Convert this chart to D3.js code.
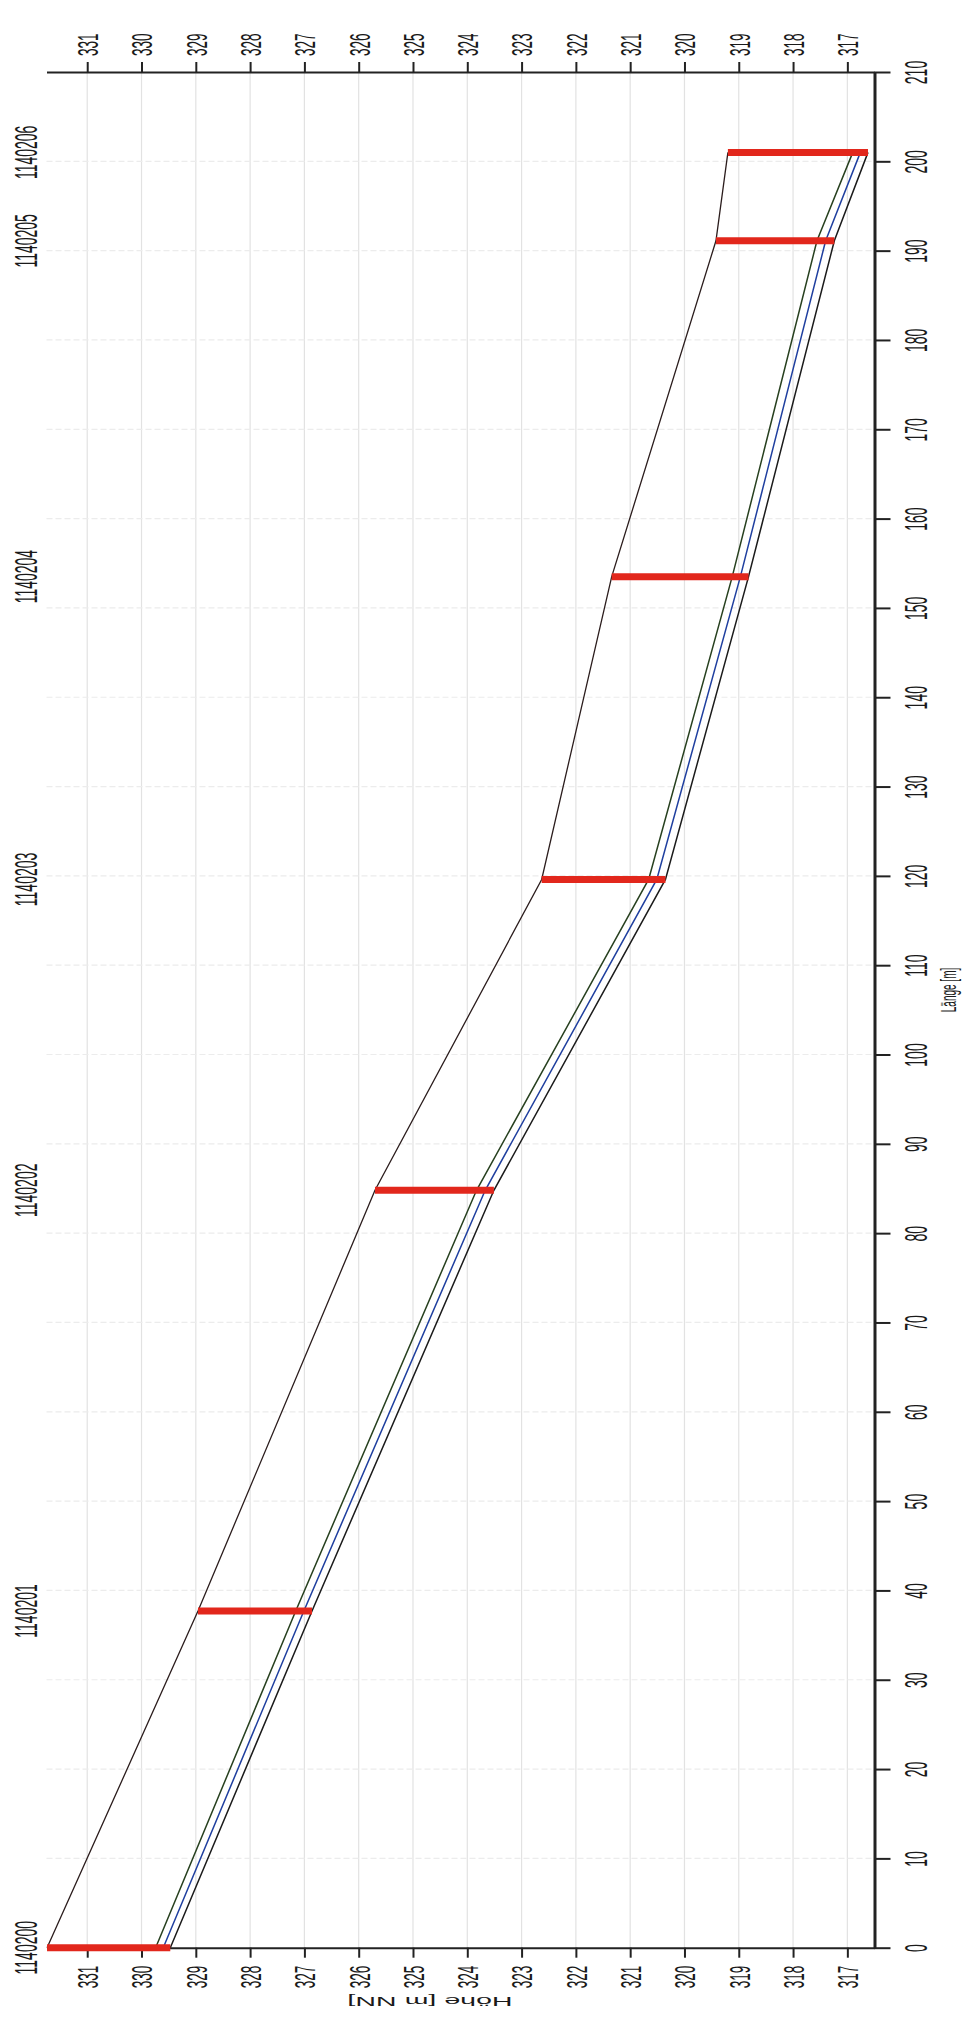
<!DOCTYPE html>
<html>
<head>
<meta charset="utf-8">
<script src="https://cdn.jsdelivr.net/npm/d3@7"></script>
<style>
  body { margin: 0; background: #fff; }
  svg { display: block; }
  text { font-family: "Liberation Sans", Arial, sans-serif; fill: #1a1a1a; }
</style>
</head>
<body>
<div id="viz"></div>
<script>
// Schachtdaten (Längsschnitt)
var stationNames = ['1140200', '1140201', '1140202', '1140203', '1140204', '1140205', '1140206'];
var stationLaenge = [0, 37.7, 84.8, 119.6, 153.5, 191.1, 201.0];
var deckelHoehe = [331.74, 328.96, 325.70, 322.63, 321.34, 319.42, 319.20];
var sohleHoehe = [329.47, 326.86, 323.51, 320.35, 318.82, 317.24, 316.62];
var mitteHoehe = [329.60, 327.01, 323.67, 320.51, 318.97, 317.40, 316.76];
var scheitelHoehe = [329.74, 327.16, 323.83, 320.66, 319.12, 317.56, 316.90];

var hoeheTicks = d3.range(317, 332, 1);
var hoeheMinor = d3.range(316.5, 332, 0.5);
var laengeTicks = d3.range(0, 211, 10);
var laengeMinor = d3.range(0, 211, 5);

var width = 969,
  height = 2021,
  stretch = 2.2;

// rotated chart: Höhe runs left->right (reversed), Länge runs bottom->top
var hScale = d3.scaleLinear()
  .domain([331.75, 316.5])
  .range([46.5, 874.5]);

var lScale = d3.scaleLinear()
  .domain([0, 210])
  .range([1947.7, 72]);

var svg = d3.select('#viz').append('svg')
  .attr('width', width)
  .attr('height', height);

// grid
svg.append('g').selectAll('line').data(hoeheTicks)
  .enter().append('line')
  .attr('x1', function(d) { return hScale(d); })
  .attr('x2', function(d) { return hScale(d); })
  .attr('y1', lScale(210))
  .attr('y2', lScale(0))
  .attr('stroke', '#e2e2e2')
  .attr('stroke-width', 1.2);

svg.append('g').selectAll('line').data(laengeTicks.slice(1, -1))
  .enter().append('line')
  .attr('x1', hScale(331.75))
  .attr('x2', hScale(316.5))
  .attr('y1', function(d) { return lScale(d); })
  .attr('y2', function(d) { return lScale(d); })
  .attr('stroke', '#ececec')
  .attr('stroke-width', 1.2)
  .attr('stroke-dasharray', '6,3');

function rot(dx, dy) {
  return 'translate(' + dx + ',' + dy + ') rotate(-90) scale(1,' + stretch + ')';
}

// Höhe axes (bottom + top)
function hoeheAxis(axisFn, y, labelOffset, anchor) {
  var g = svg.append('g').attr('transform', 'translate(0,' + y + ')');
  g.call(axisFn(hScale).tickValues(hoeheMinor).tickSize(6).tickSizeOuter(0).tickFormat(''));
  g.call(axisFn(hScale).tickValues(hoeheTicks).tickSize(10).tickSizeOuter(0).tickFormat(d3.format('d')));
  g.selectAll('path.domain').attr('stroke', '#222').attr('stroke-width', 2);
  g.selectAll('.tick line').attr('stroke', '#222').attr('stroke-width', 2);
  g.selectAll('.tick text')
    .attr('x', null).attr('y', null)
    .attr('dy', '0.35em')
    .attr('text-anchor', anchor)
    .attr('transform', rot(0, labelOffset))
    .style('font-size', '13.5px');
  return g;
}
hoeheAxis(d3.axisBottom, lScale(0), 18, 'end');
hoeheAxis(d3.axisTop, lScale(210), -16, 'start');

// Länge axis (right)
var lAxis = svg.append('g').attr('transform', 'translate(' + hScale(316.5) + ',0)');
lAxis.call(d3.axisRight(lScale).tickValues(laengeMinor).tickSize(11).tickSizeOuter(0).tickFormat(''));
lAxis.call(d3.axisRight(lScale).tickValues(laengeTicks).tickSize(16).tickSizeOuter(0).tickFormat(d3.format('d')));
lAxis.selectAll('path.domain').attr('stroke', '#222').attr('stroke-width', 3);
lAxis.selectAll('.tick line').attr('stroke', '#222').attr('stroke-width', 2);
lAxis.selectAll('.tick text')
  .attr('x', null).attr('y', null)
  .attr('dy', '0.35em')
  .attr('text-anchor', 'middle')
  .attr('transform', rot(42, 0))
  .style('font-size', '14px');

svg.append('text')
  .attr('transform', rot(948, 990))
  .attr('text-anchor', 'middle')
  .attr('dy', '0.35em')
  .style('font-size', '10px')
  .text('Länge [m]');

svg.append('text')
  .attr('transform', 'translate(430,2002) rotate(180) scale(' + stretch + ',1)')
  .attr('text-anchor', 'middle')
  .attr('dy', '0.35em')
  .style('font-size', '13px')
  .text('Höhe [m NN]');

// profile lines
function profile(values, color, w) {
  var pts = stationLaenge.map(function(l, i) { return [l, values[i]]; });
  var line = d3.line()
    .x(function(d) { return hScale(d[1]); })
    .y(function(d) { return lScale(d[0]); });
  svg.append('path')
    .datum(pts)
    .attr('d', line)
    .attr('fill', 'none')
    .attr('stroke', color)
    .attr('stroke-width', w);
}
profile(deckelHoehe, '#2b1d1d', 1.3);
profile(scheitelHoehe, '#27401f', 1.5);
profile(mitteHoehe, '#1f3f9f', 1.5);
profile(sohleHoehe, '#1b1b1b', 1.5);

// Schächte
svg.append('g').selectAll('line').data(stationLaenge)
  .enter().append('line')
  .attr('x1', function(d, i) { return hScale(deckelHoehe[i]); })
  .attr('x2', function(d, i) { return hScale(sohleHoehe[i]); })
  .attr('y1', function(d) { return lScale(d); })
  .attr('y2', function(d) { return lScale(d); })
  .attr('stroke', '#e2271c')
  .attr('stroke-width', 7);

svg.append('g').selectAll('text').data(stationNames)
  .enter().append('text')
  .attr('transform', function(d, i) { return rot(26, lScale(stationLaenge[i])); })
  .attr('text-anchor', 'middle')
  .attr('dy', '0.35em')
  .style('font-size', '14px')
  .text(function(d) { return d; });
</script>
</body>
</html>
